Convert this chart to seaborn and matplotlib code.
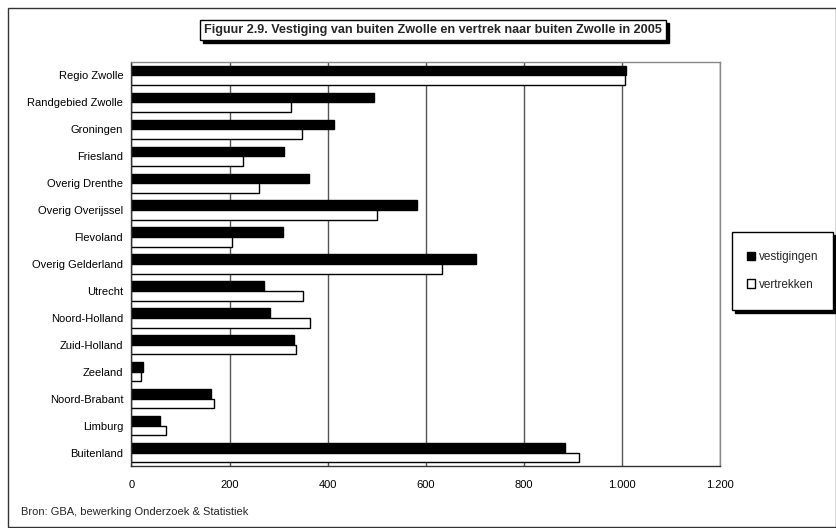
import matplotlib
matplotlib.use("Agg")
import matplotlib.pyplot as plt
import seaborn as sns
import pandas as pd
from matplotlib.patches import Rectangle, Patch
from matplotlib.ticker import FuncFormatter

categories = ["Regio Zwolle", "Randgebied Zwolle", "Groningen", "Friesland", "Overig Drenthe",
              "Overig Overijssel", "Flevoland", "Overig Gelderland", "Utrecht", "Noord-Holland",
              "Zuid-Holland", "Zeeland", "Noord-Brabant", "Limburg", "Buitenland"]
vestigingen = [1008, 495, 412, 310, 361, 582, 308, 703, 270, 283, 332, 24, 162, 58, 883]
vertrekken = [1006, 326, 348, 227, 261, 501, 204, 634, 350, 364, 336, 19, 169, 71, 912]
series = ["vestigingen", "vertrekken"]
xticks = [0, 200, 400, 600, 800, 1000, 1200]

df = pd.DataFrame({
    "regio": categories * 2,
    "waarde": vestigingen + vertrekken,
    "reeks": [series[0]] * len(categories) + [series[1]] * len(categories),
})

sns.set_theme(style="white")
plt.rcParams["font.family"] = ["Liberation Sans", "DejaVu Sans"]

W, H = 837, 528
fig = plt.figure(figsize=(W / 100, H / 100), dpi=100)
ax = fig.add_axes([131.5 / W, 1 - 466 / H, (720 - 131.5) / W, (466 - 62) / H])

sns.barplot(data=df, y="regio", x="waarde", hue="reeks", orient="h",
            palette={"vestigingen": "black", "vertrekken": "white"},
            edgecolor="black", linewidth=1.0, width=0.72, ax=ax, legend=False)

ax.set_xlim(0, 1200)
ax.set_ylim(len(categories) - 0.5, -0.5)
ax.set_xticks(xticks)
ax.xaxis.set_major_formatter(FuncFormatter(lambda v, p: f"{int(v):,}".replace(",", ".")))
ax.set_xlabel("")
ax.set_ylabel("")
ax.grid(axis="x", color="#555555", linewidth=1.0)
ax.set_axisbelow(True)
for s in ["top", "right"]:
    ax.spines[s].set_color("#888888")
    ax.spines[s].set_linewidth(1.0)
for s in ["left", "bottom"]:
    ax.spines[s].set_color("#333333")
    ax.spines[s].set_linewidth(1.0)
ax.tick_params(axis="both", labelsize=8, colors="black", length=0, pad=6)
ax.set_yticks([i + 0.5 for i in range(-1, len(categories))], minor=True)
ax.tick_params(axis="y", which="minor", length=4, color="#333333", direction="out")
ax.tick_params(axis="x", which="major", length=4, color="#333333", direction="out")

# outer border
fig.patches.append(Rectangle((8 / W, 1 - 527 / H), (836 - 8) / W, (527 - 8) / H,
                             transform=fig.transFigure, fill=False, edgecolor="#333333",
                             linewidth=1.0))

# title with shadow box
title = fig.text(433 / W, 1 - 30 / H,
                 "Figuur 2.9. Vestiging van buiten Zwolle en vertrek naar buiten Zwolle in 2005",
                 ha="center", va="center", fontsize=9.1, fontweight="bold",
                 bbox=dict(boxstyle="square,pad=0.3", facecolor="white", edgecolor="black", linewidth=1.0),
                 zorder=5)
fig.canvas.draw()
bb = title.get_bbox_patch().get_window_extent(fig.canvas.get_renderer())
fig.patches.append(Rectangle(((bb.x0 + 3) / W, (bb.y0 - 3) / H), bb.width / W, bb.height / H,
                             transform=fig.transFigure, facecolor="black", edgecolor="black",
                             zorder=4))

# legend box with shadow
lx0, ly0, lx1, ly1 = 732, 232, 833, 310
fig.patches.append(Rectangle(((lx0 + 3) / W, 1 - (ly1 + 3) / H), (lx1 - lx0) / W, (ly1 - ly0) / H,
                             transform=fig.transFigure, facecolor="black", edgecolor="black", zorder=4))
fig.patches.append(Rectangle((lx0 / W, 1 - ly1 / H), (lx1 - lx0) / W, (ly1 - ly0) / H,
                             transform=fig.transFigure, facecolor="white", edgecolor="black",
                             linewidth=1.0, zorder=5))
handles = [Patch(facecolor="black", edgecolor="black"), Patch(facecolor="white", edgecolor="black")]
leg = fig.legend(handles, series, loc="center", bbox_to_anchor=((lx0 + lx1) / 2 / W, 1 - (ly0 + ly1) / 2 / H),
                 frameon=False, fontsize=8.5, handlelength=0.7, handleheight=0.7,
                 handletextpad=0.3, labelspacing=1.3, borderaxespad=0)
leg.set_zorder(6)

fig.text(21 / W, 1 - 512 / H, "Bron: GBA, bewerking Onderzoek & Statistiek",
         ha="left", va="center", fontsize=8)

fig.savefig("out.png", dpi=100, facecolor="white")
